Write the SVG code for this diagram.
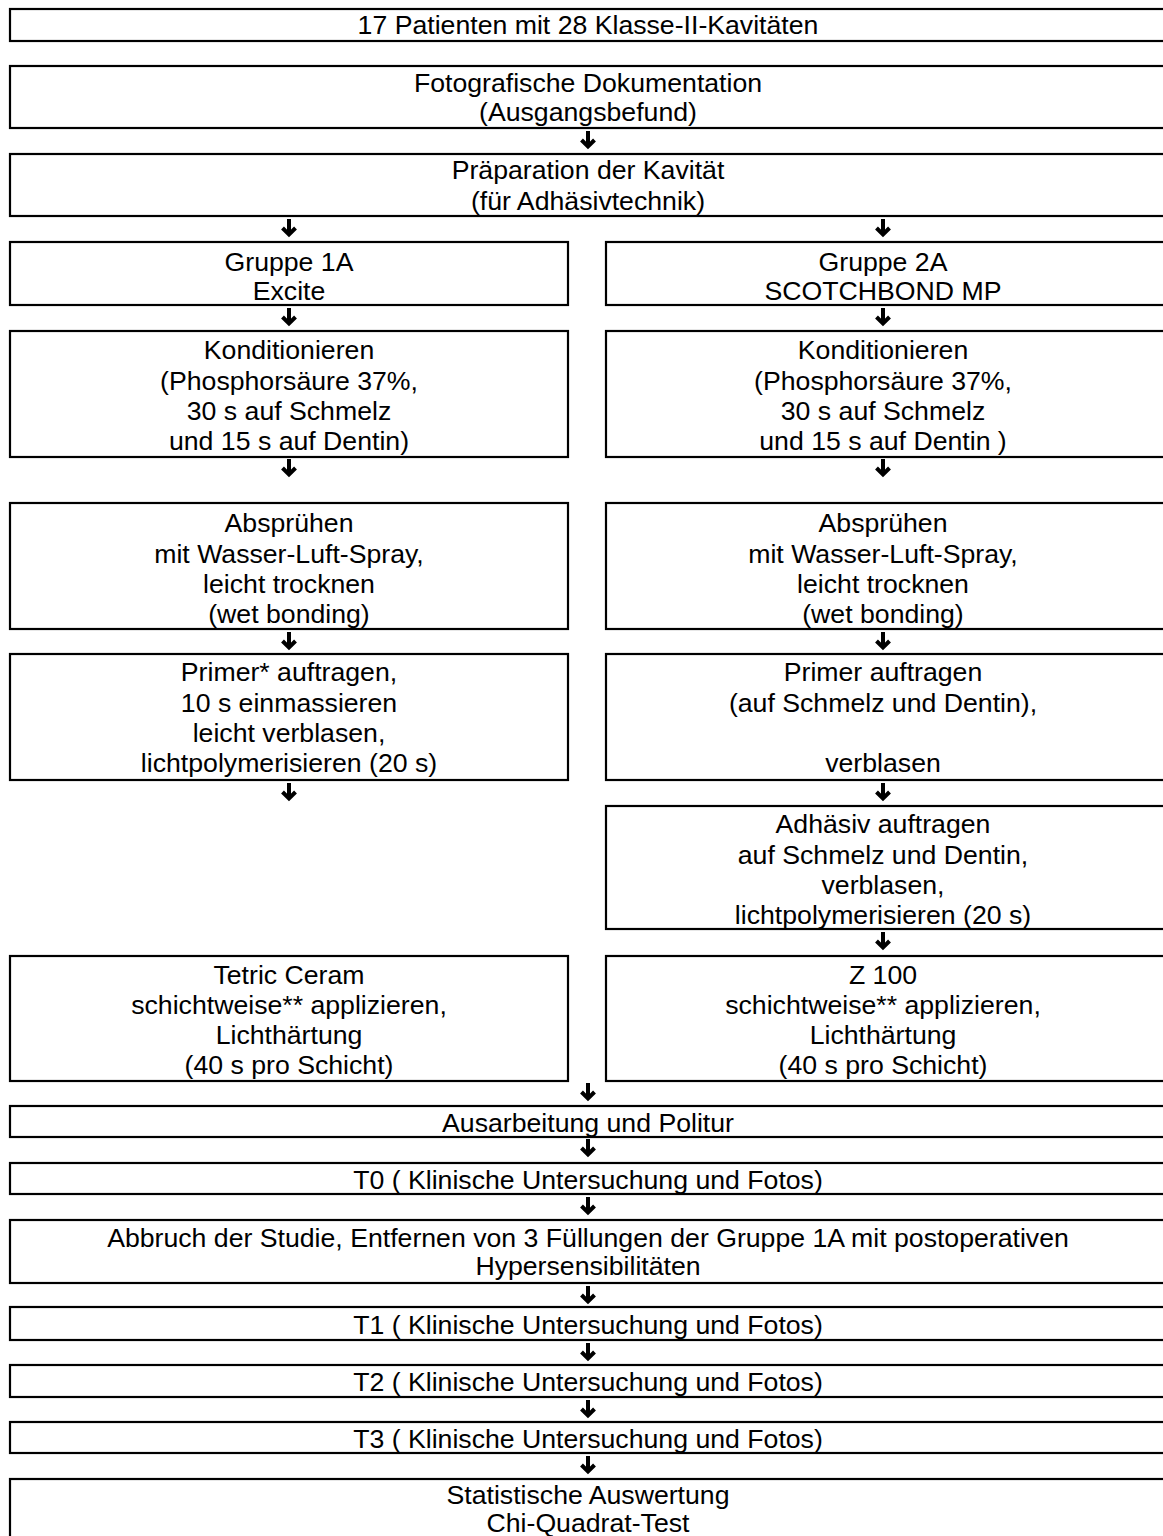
<svg xmlns="http://www.w3.org/2000/svg" width="1163" height="1536" viewBox="0 0 1163 1536">
<style>
.b{fill:#fff;stroke:#000;stroke-width:2.2}
text{font-family:"Liberation Sans",Arial,sans-serif;font-size:26.67px;fill:#000;text-anchor:middle}
.a{fill:none;stroke:#000;stroke-width:4;stroke-linejoin:miter;stroke-linecap:butt}
</style>
<defs>
<path id="arr" d="M0,0 V16 M-6.5,9 L0,15.5 L6.5,9" class="a"/>
</defs>
<rect width="1163" height="1536" fill="#fff"/>
<g id="n1"><rect class="b" x="10" y="9" width="1156" height="32"/><text x="588" y="34">17 Patienten mit 28 Klasse-II-Kavitäten</text></g>
<g id="n2"><rect class="b" x="10" y="66" width="1156" height="62"/><text x="588" y="92">Fotografische Dokumentation</text><text x="588" y="121">(Ausgangsbefund)</text></g>
<g id="n3"><rect class="b" x="10" y="154" width="1156" height="62"/><text x="588" y="179">Präparation der Kavität</text><text x="588" y="210">(für Adhäsivtechnik)</text></g>
<g id="g1"><rect class="b" x="10" y="242" width="558" height="63"/><text x="289" y="271">Gruppe 1A</text><text x="289" y="300">Excite</text></g>
<g id="g2"><rect class="b" x="606" y="242" width="560" height="63"/><text x="883" y="271">Gruppe 2A</text><text x="883" y="300">SCOTCHBOND MP</text></g>
<g id="k1"><rect class="b" x="10" y="331" width="558" height="126"/><text x="289" y="359">Konditionieren</text><text x="289" y="390">(Phosphorsäure 37%,</text><text x="289" y="420">30 s auf Schmelz</text><text x="289" y="450">und 15 s auf Dentin)</text></g>
<g id="k2"><rect class="b" x="606" y="331" width="560" height="126"/><text x="883" y="359">Konditionieren</text><text x="883" y="390">(Phosphorsäure 37%,</text><text x="883" y="420">30 s auf Schmelz</text><text x="883" y="450">und 15 s auf Dentin )</text></g>
<g id="s1"><rect class="b" x="10" y="503" width="558" height="126"/><text x="289" y="532">Absprühen</text><text x="289" y="563">mit Wasser-Luft-Spray,</text><text x="289" y="593">leicht trocknen</text><text x="289" y="623">(wet bonding)</text></g>
<g id="s2"><rect class="b" x="606" y="503" width="560" height="126"/><text x="883" y="532">Absprühen</text><text x="883" y="563">mit Wasser-Luft-Spray,</text><text x="883" y="593">leicht trocknen</text><text x="883" y="623">(wet bonding)</text></g>
<g id="p1"><rect class="b" x="10" y="654" width="558" height="126"/><text x="289" y="681">Primer* auftragen,</text><text x="289" y="712">10 s einmassieren</text><text x="289" y="742">leicht verblasen,</text><text x="289" y="772">lichtpolymerisieren (20 s)</text></g>
<g id="p2"><rect class="b" x="606" y="654" width="560" height="126"/><text x="883" y="681">Primer auftragen</text><text x="883" y="712">(auf Schmelz und Dentin),</text><text x="883" y="772">verblasen</text></g>
<g id="ad"><rect class="b" x="606" y="806" width="560" height="123"/><text x="883" y="833">Adhäsiv auftragen</text><text x="883" y="864">auf Schmelz und Dentin,</text><text x="883" y="894">verblasen,</text><text x="883" y="924">lichtpolymerisieren (20 s)</text></g>
<g id="t1"><rect class="b" x="10" y="956" width="558" height="125"/><text x="289" y="984">Tetric Ceram</text><text x="289" y="1014">schichtweise** applizieren,</text><text x="289" y="1044">Lichthärtung</text><text x="289" y="1074">(40 s pro Schicht)</text></g>
<g id="t2"><rect class="b" x="606" y="956" width="560" height="125"/><text x="883" y="984">Z 100</text><text x="883" y="1014">schichtweise** applizieren,</text><text x="883" y="1044">Lichthärtung</text><text x="883" y="1074">(40 s pro Schicht)</text></g>
<g id="au"><rect class="b" x="10" y="1106" width="1156" height="31"/><text x="588" y="1132">Ausarbeitung und Politur</text></g>
<g id="t0"><rect class="b" x="10" y="1163" width="1156" height="31"/><text x="588" y="1189">T0 ( Klinische Untersuchung und Fotos)</text></g>
<g id="ab"><rect class="b" x="10" y="1220" width="1156" height="63"/><text x="588" y="1247">Abbruch der Studie, Entfernen von 3 Füllungen der Gruppe 1A mit postoperativen</text><text x="588" y="1275">Hypersensibilitäten</text></g>
<g id="tt1"><rect class="b" x="10" y="1307" width="1156" height="33"/><text x="588" y="1334">T1 ( Klinische Untersuchung und Fotos)</text></g>
<g id="tt2"><rect class="b" x="10" y="1365" width="1156" height="32"/><text x="588" y="1391">T2 ( Klinische Untersuchung und Fotos)</text></g>
<g id="tt3"><rect class="b" x="10" y="1422" width="1156" height="31"/><text x="588" y="1448">T3 ( Klinische Untersuchung und Fotos)</text></g>
<g id="st"><rect class="b" x="10" y="1479" width="1156" height="80"/><text x="588" y="1504">Statistische Auswertung</text><text x="588" y="1532">Chi-Quadrat-Test</text></g>
<g id="connectors">
<use href="#arr" x="588" y="131"/>
<use href="#arr" x="289" y="219"/>
<use href="#arr" x="883" y="219"/>
<use href="#arr" x="289" y="308"/>
<use href="#arr" x="883" y="308"/>
<use href="#arr" x="289" y="459"/>
<use href="#arr" x="883" y="459"/>
<use href="#arr" x="289" y="632"/>
<use href="#arr" x="883" y="632"/>
<use href="#arr" x="289" y="783"/>
<use href="#arr" x="883" y="783"/>
<use href="#arr" x="883" y="932"/>
<use href="#arr" x="588" y="1083"/>
<use href="#arr" x="588" y="1139"/>
<use href="#arr" x="588" y="1197"/>
<use href="#arr" x="588" y="1286"/>
<use href="#arr" x="588" y="1343"/>
<use href="#arr" x="588" y="1400"/>
<use href="#arr" x="588" y="1456"/>
</g>
</svg>
